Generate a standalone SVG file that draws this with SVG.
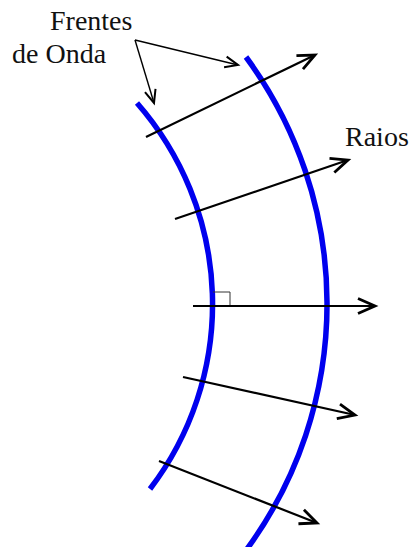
<svg xmlns="http://www.w3.org/2000/svg" width="412" height="547" viewBox="0 0 412 547">
<style>
.wave{fill:none;stroke:#0000ee;stroke-width:5.5}
.ray{fill:none;stroke:#000;stroke-width:2.2;marker-end:url(#ah)}
.ptr{fill:none;stroke:#000;stroke-width:1.4;marker-end:url(#ahs)}
.lbl{font-family:"Liberation Serif","Times New Roman",serif;font-size:28px;fill:#111}
</style>
<defs>
<marker id="ah" markerUnits="userSpaceOnUse" markerWidth="22" markerHeight="20" refX="17" refY="8" orient="auto" overflow="visible">
<path d="M0,0.5 L17,8 L0,15.5" fill="none" stroke="#000" stroke-width="2.8"/>
</marker>
<marker id="ahs" markerUnits="userSpaceOnUse" markerWidth="18" markerHeight="16" refX="13" refY="7" orient="auto" overflow="visible">
<path d="M0,1.5 L13,7 L0,12.5" fill="none" stroke="#000" stroke-width="2"/>
</marker>
</defs>
<g id="wavefront-inner"><path class="wave" d="M137,103 A305,305 0 0 1 150,489"/></g>
<g id="wavefront-outer"><path class="wave" d="M246,57 A416,416 0 0 1 247,549"/></g>
<g id="right-angle"><path d="M213,292 H230 V306" fill="none" stroke="#333" stroke-width="1"/></g>
<g id="label-frentes"><text class="lbl" x="50" y="30">Frentes</text><text class="lbl" x="12" y="63">de Onda</text></g>
<g id="label-raios"><text class="lbl" x="345" y="146">Raios</text></g>
<g id="connectors">
<path class="ray" d="M146,137 L315,55"/>
<path class="ray" d="M175,219 L348,160"/>
<path class="ray" d="M193,306 L375,306"/>
<path class="ray" d="M183,377 L355,415"/>
<path class="ray" d="M159,461 L317,523"/>
<path class="ptr" d="M135,40 L238,65"/>
<path class="ptr" d="M135,40 L154,103"/>
</g>
</svg>
